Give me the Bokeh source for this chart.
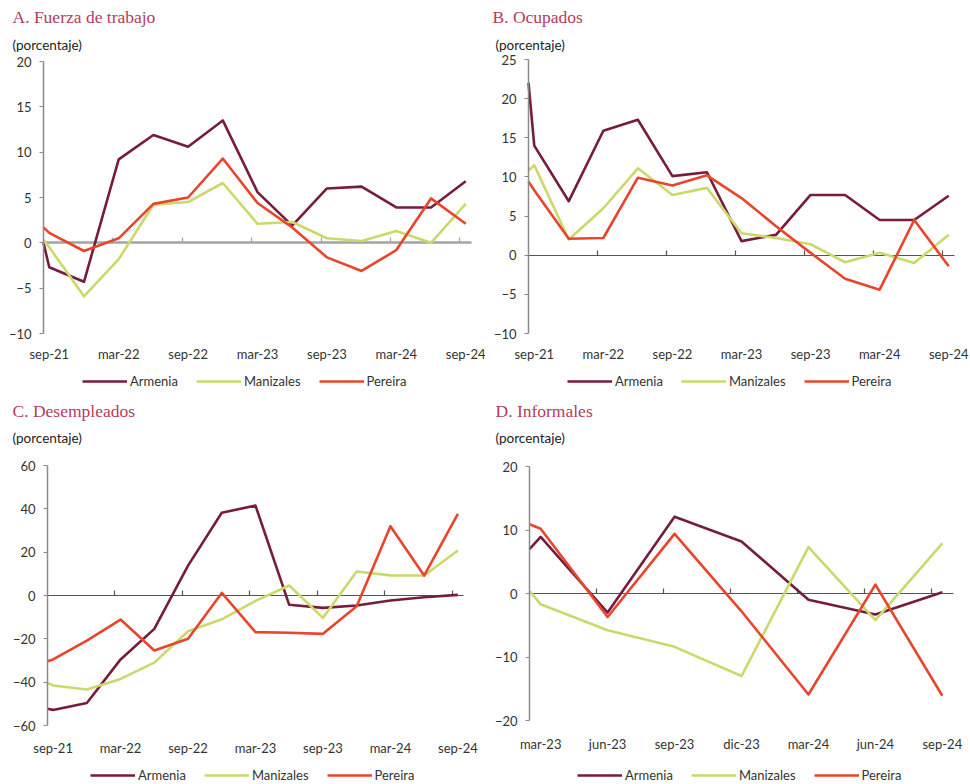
from bokeh.plotting import figure
from bokeh.models import Range1d, Legend, LegendItem, FixedTicker, LinearAxis, Label
from bokeh.layouts import gridplot
from bokeh.embed import file_html
from bokeh.resources import INLINE

# ---------------- data ----------------
# x positions in months from the first period (sep-21 / mar-23)
months_long = [0, 0.5, 3.5, 6.5, 9.5, 12.5, 15.5, 18.5, 21.5, 24.5, 27.5, 30.5, 33.5, 36.5]
months_short = [0, 0.5, 3.5, 6.5, 9.5, 12.5, 15.5, 18.5]

labels_long = ["sep-21", "mar-22", "sep-22", "mar-23", "sep-23", "mar-24", "sep-24"]
labels_short = ["mar-23", "jun-23", "sep-23", "dic-23", "mar-24", "jun-24", "sep-24"]

series_names = ["Armenia", "Manizales", "Pereira"]

fuerza_armenia = [0.0, -2.7, -4.3, 9.2, 11.9, 10.6, 13.5, 5.6, 1.9, 6.0, 6.2, 3.9, 3.9, 6.8]
fuerza_manizales = [0.3, -0.5, -5.9, -1.8, 4.2, 4.5, 6.6, 2.1, 2.3, 0.5, 0.2, 1.3, 0.0, 4.3]
fuerza_pereira = [1.7, 1.1, -0.9, 0.5, 4.3, 5.0, 9.3, 4.4, 1.7, -1.6, -3.1, -0.8, 4.9, 2.1]

ocup_armenia = [22.0, 14.0, 6.9, 15.9, 17.3, 10.1, 10.6, 1.8, 2.6, 7.7, 7.7, 4.5, 4.5, 7.6]
ocup_manizales = [10.8, 11.5, 2.0, 6.0, 11.1, 7.7, 8.6, 2.8, 2.2, 1.4, -0.9, 0.3, -1.0, 2.6]
ocup_pereira = [9.4, 8.3, 2.1, 2.2, 9.9, 8.9, 10.2, 7.3, 3.7, 0.3, -3.0, -4.4, 4.5, -1.4]

desemp_armenia = [-52.3, -52.8, -49.6, -29.5, -15.4, 13.8, 38.2, 41.5, -4.3, -5.7, -4.6, -2.3, -0.8, 0.3]
desemp_manizales = [-40.3, -41.5, -43.4, -38.5, -31.0, -16.5, -11.0, -2.5, 4.6, -10.3, 11.1, 9.3, 9.2, 20.8]
desemp_pereira = [-30.3, -29.5, -20.8, -11.1, -25.4, -20.0, 1.2, -16.9, -17.2, -17.7, -5.0, 32.0, 9.2, 37.7]

inform_armenia = [7.0, 8.9, -3.0, 12.1, 8.2, -1.0, -3.3, 0.2]
inform_manizales = [0.4, -1.7, -5.8, -8.4, -13.0, 7.3, -4.2, 7.9]
inform_pereira = [10.9, 10.2, -3.7, 9.4, -2.8, -15.9, 1.4, -16.1]

# ---------------- style ----------------
COLORS = ["#761c3d", "#cbd96a", "#e8452d"]
TITLE_COLOR = "#b43c61"
TEXT_COLOR = "#333333"
TICK_FONT = "Lato"
LEG_H = 16


def panel(fig_box, data_box, xr, yr, yticks, xs, series, label_pos, label_txt,
          zero_ticks, title, title_pos, pct_pos, xlab_y, leg_pos, zero_color, zero_width):
    fx0, fy0, fx1, fy1 = fig_box
    dl, dr, dt, db = data_box
    ux = (dr - dl) / (xr[1] - xr[0])
    uy = (db - dt) / (yr[1] - yr[0])
    x_rng = Range1d(xr[0] - (dl - fx0) / ux, xr[1] + (fx1 - dr) / ux)
    y_rng = Range1d(yr[0] - (fy1 - db) / uy, yr[1] + (dt - fy0) / uy)
    p = figure(width=fx1 - fx0, height=fy1 - fy0, x_range=x_rng, y_range=y_rng,
               output_backend="svg", toolbar_location=None,
               min_border_left=0, min_border_right=0, min_border_top=0, min_border_bottom=0)
    p.outline_line_color = None
    p.xgrid.visible = False
    p.ygrid.visible = False
    p.background_fill_color = "white"
    p.border_fill_color = "white"

    # y axis, fixed at the left edge of the data area
    ya = p.yaxis[0]
    ya.fixed_location = xr[0]
    ya.bounds = yr
    ya.ticker = FixedTicker(ticks=yticks)
    ya.axis_line_color = "#8a8a8a"
    ya.axis_line_width = 1.5
    ya.major_tick_line_color = "#8a8a8a"
    ya.major_tick_out = 4
    ya.major_tick_in = 0
    ya.minor_tick_line_color = None
    ya.major_label_standoff = 8
    ya.major_label_text_font = TICK_FONT
    ya.major_label_text_font_size = "13px"
    ya.major_label_text_color = TEXT_COLOR

    # x axis: category labels at the bottom of the data area
    xa = p.xaxis[0]
    xa.fixed_location = yr[0]
    xa.ticker = FixedTicker(ticks=label_pos)
    xa.major_label_overrides = {float(k): v for k, v in zip(label_pos, label_txt)}
    xa.axis_line_color = None
    xa.major_tick_line_color = None
    xa.minor_tick_line_color = None
    xa.major_tick_out = 0
    xa.major_tick_in = 0
    xa.major_label_standoff = int(round(xlab_y - db - 8))
    xa.major_label_text_font = TICK_FONT
    xa.major_label_text_font_size = "13px"
    xa.major_label_text_color = TEXT_COLOR

    # zero axis with ticks between periods
    za = LinearAxis(fixed_location=0, bounds=xr, ticker=FixedTicker(ticks=zero_ticks),
                    major_label_overrides={float(t): "" for t in zero_ticks},
                    axis_line_color=zero_color, axis_line_width=zero_width,
                    major_tick_line_color=zero_color, major_tick_line_width=1.2,
                    major_tick_in=5, major_tick_out=0, minor_tick_line_color=None,
                    level="underlay")
    p.add_layout(za, "below")

    items = []
    for name, ys, c in zip(series_names, series, COLORS):
        r = p.line(xs, ys, line_color=c, line_width=2.6, line_join="round")
        items.append(LegendItem(label=name, renderers=[r]))

    # texts in screen units (relative to the figure bottom-left)
    p.add_layout(Label(x=title_pos[0] - fx0, y=fy1 - title_pos[1], x_units="screen", y_units="screen",
                       text=title, text_font="Liberation Serif", text_font_size="17.5px",
                       text_color=TITLE_COLOR, text_baseline="middle", text_align="left"))
    p.add_layout(Label(x=pct_pos[0] - fx0, y=fy1 - pct_pos[1], x_units="screen", y_units="screen",
                       text="(porcentaje)", text_font=TICK_FONT, text_font_size="13.5px",
                       text_color="#222222", text_baseline="middle", text_align="left"))

    leg = Legend(items=items, orientation="horizontal",
                 location=(leg_pos[0] - fx0, fy1 - leg_pos[1] - LEG_H / 2),
                 glyph_width=45, glyph_height=14, label_standoff=3, spacing=18,
                 padding=0, margin=0, border_line_color=None, background_fill_alpha=0,
                 label_text_font=TICK_FONT, label_text_font_size="13px",
                 label_text_color=TEXT_COLOR, label_height=14)
    p.add_layout(leg)
    return p


ticks_long = [6, 12, 18, 24, 30, 36]
ticks_short = [3, 6, 9, 12, 15, 18]
pos_long = [0.5 + 6 * i for i in range(len(labels_long))]
pos_short = [0.5 + 3 * i for i in range(len(labels_short))]

pA = panel((0, 0, 485, 392), (43, 471, 61, 333), (0, 37), (-10, 20), [-10, -5, 0, 5, 10, 15, 20],
           months_long, [fuerza_armenia, fuerza_manizales, fuerza_pereira], pos_long, labels_long,
           ticks_long, "A. Fuerza de trabajo", (12, 16.5), (12, 44), 353, (82, 381), "#a3a3a3", 2.5)
pB = panel((485, 0, 970, 392), (528, 954, 59, 333), (0, 37), (-10, 25), [-10, -5, 0, 5, 10, 15, 20, 25],
           months_long, [ocup_armenia, ocup_manizales, ocup_pereira], pos_long, labels_long,
           ticks_long, "B. Ocupados", (492, 16.5), (495, 44), 353, (567, 381), "#555555", 1.2)
pC = panel((0, 392, 485, 784), (47, 463, 465, 725), (0, 37), (-60, 60), [-60, -40, -20, 0, 20, 40, 60],
           months_long, [desemp_armenia, desemp_manizales, desemp_pereira], pos_long, labels_long,
           ticks_long, "C. Desempleados", (12, 410), (12, 437.5), 747, (90, 775), "#555555", 1.2)
pD = panel((485, 392, 970, 784), (529, 953, 466, 720), (0, 19), (-20, 20), [-20, -10, 0, 10, 20],
           months_short, [inform_armenia, inform_manizales, inform_pereira], pos_short, labels_short,
           ticks_short, "D. Informales", (495, 410), (495, 437.5), 743, (577, 775), "#555555", 1.2)

grid = gridplot([[pA, pB], [pC, pD]], toolbar_location=None)

open("out.html", "w").write(file_html(grid, INLINE))
